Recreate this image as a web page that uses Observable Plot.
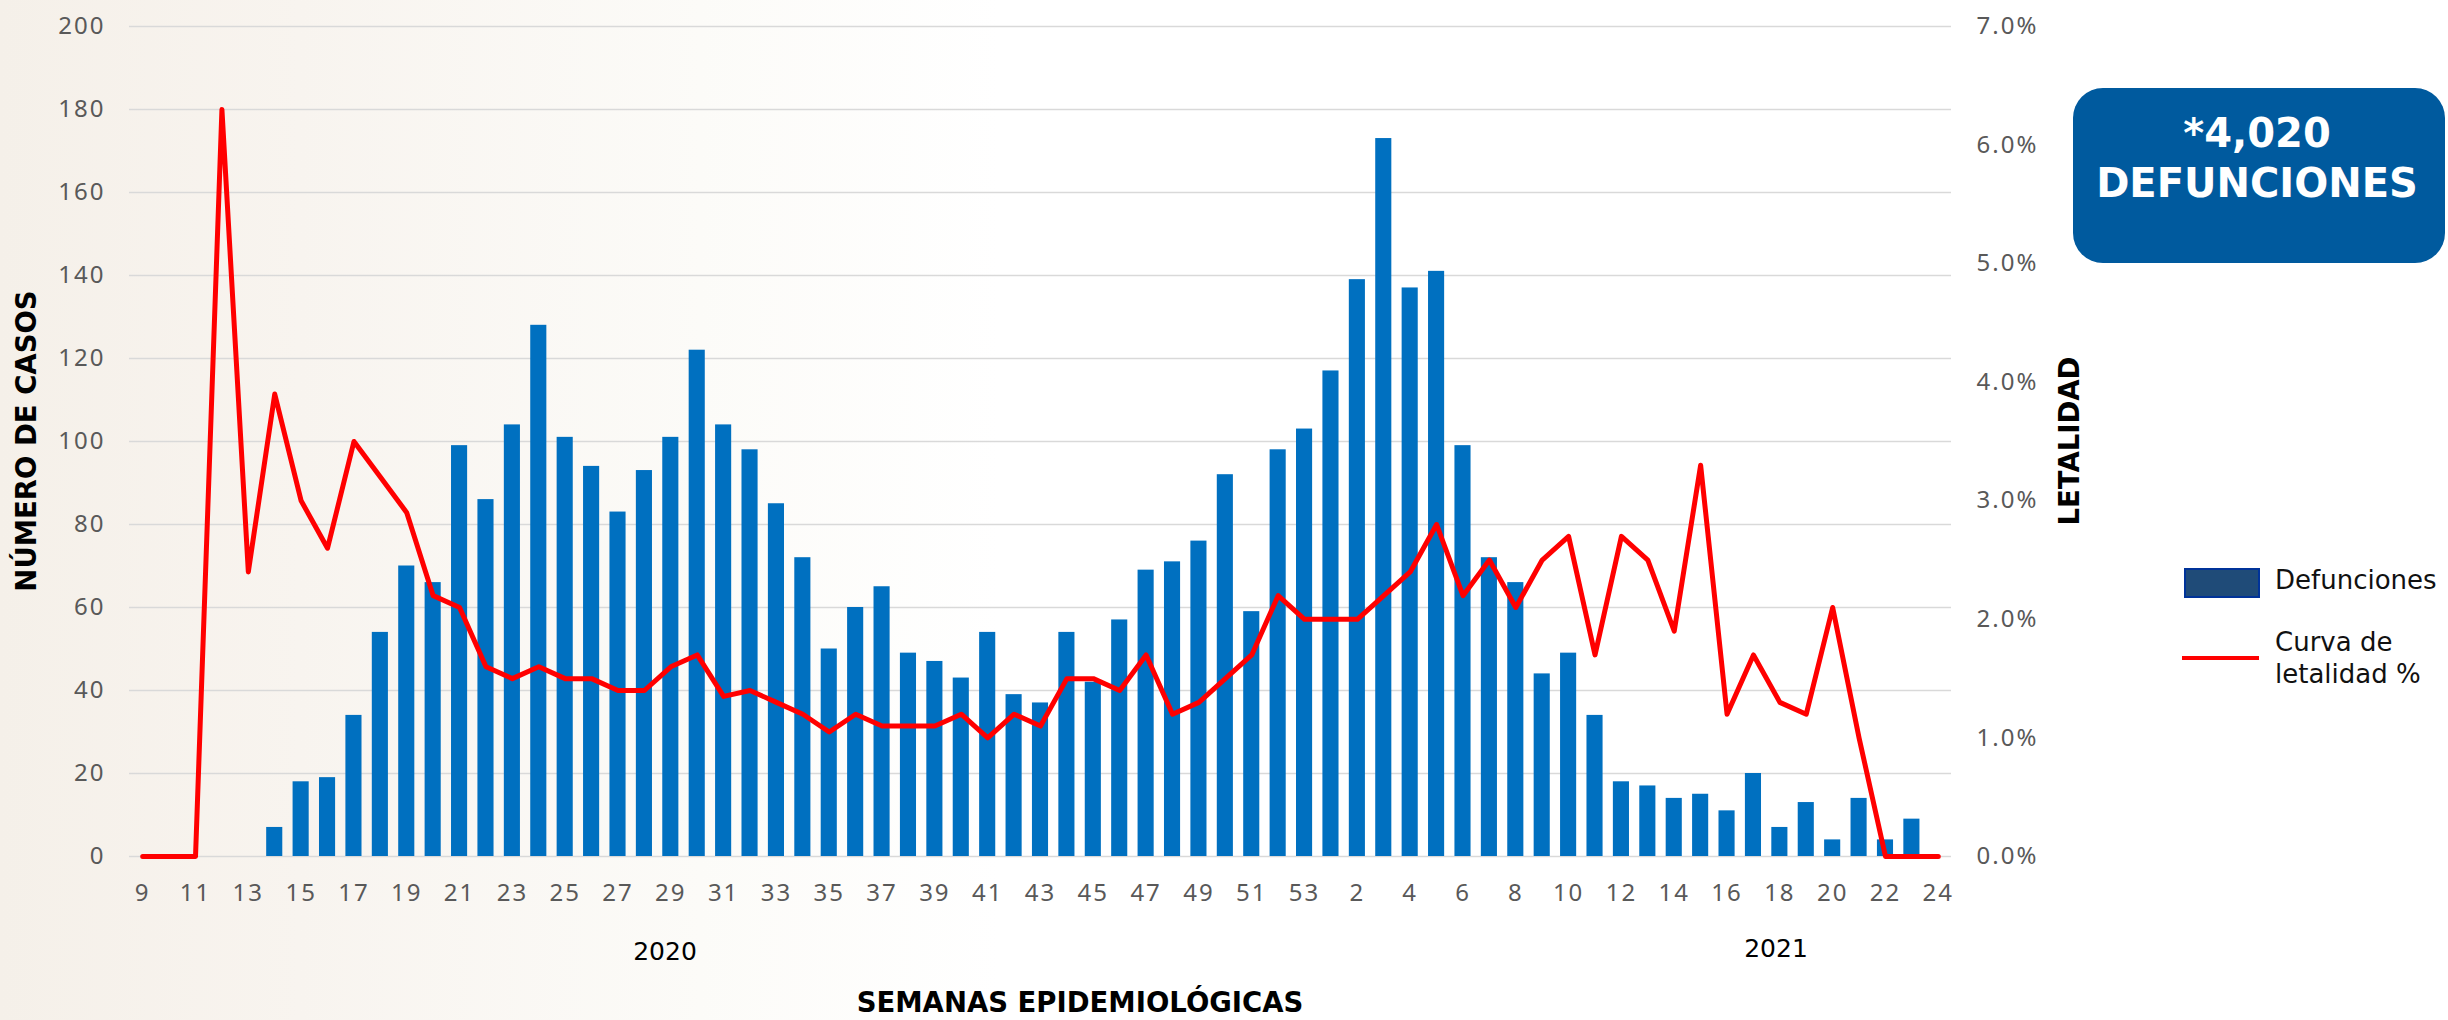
<!DOCTYPE html>
<html><head><meta charset="utf-8">
<script src="https://cdn.jsdelivr.net/npm/d3@7"></script>
<script src="https://cdn.jsdelivr.net/npm/@observablehq/plot@0.6"></script>
<style>
html,body{margin:0;padding:0;}
body{width:2448px;height:1020px;overflow:hidden;background:linear-gradient(90deg,#f5f0e9 0px,#f8f4ef 300px,#fcfbf8 700px,#ffffff 1000px);font-family:"Noto Sans",sans-serif;}
#wrap{position:relative;width:2448px;height:1020px;}
#chart{position:absolute;left:0;top:0;}
#chart svg text{letter-spacing:2px;}
.t{position:absolute;white-space:nowrap;line-height:1;transform:translate(-50%,-50%);color:#000;font-family:"DejaVu Sans",sans-serif;}
.rot{transform:translate(-50%,-50%) rotate(-90deg);}
.b{font-weight:700;}
#box{position:absolute;left:2073px;top:88px;width:372px;height:175px;border-radius:30px;background:#005a9e;}
.bt{position:absolute;left:2257px;transform:translateX(-50%);color:#fff;font-family:"DejaVu Sans",sans-serif;font-weight:700;font-size:40px;line-height:1;white-space:nowrap;}
.lg{position:absolute;font-family:"DejaVu Sans",sans-serif;font-size:26px;color:#111;line-height:32px;white-space:nowrap;}
</style></head><body>
<div id="wrap">
<div id="chart"></div>
<div class="t rot b" style="left:27px;top:441px;font-size:27.5px;">NÚMERO DE CASOS</div>
<div class="t rot b" style="left:2070px;top:441px;font-size:27.5px;">LETALIDAD</div>
<div class="t" style="left:665px;top:951px;font-size:25px;">2020</div>
<div class="t" style="left:1776px;top:948px;font-size:25px;">2021</div>
<div class="t b" style="left:1080px;top:1003px;font-size:27.5px;">SEMANAS EPIDEMIOLÓGICAS</div>
<div id="box"></div>
<div class="bt" style="top:113px;">*4,020</div>
<div class="bt" style="top:163px;">DEFUNCIONES</div>
<div style="position:absolute;left:2184px;top:568px;width:72px;height:26px;background:#1f4b78;border:2px solid #003399;"></div>
<div class="lg" style="left:2275px;top:564px;">Defunciones</div>
<div style="position:absolute;left:2182px;top:656px;width:77px;height:4px;background:#ff0000;"></div>
<div class="lg" style="left:2275px;top:626px;">Curva de<br>letalidad %</div>
</div>
<script>
const weeks2020 = [9,10,11,12,13,14,15,16,17,18,19,20,21,22,23,24,25,26,27,28,29,30,31,32,33,34,35,36,37,38,39,40,41,42,43,44,45,46,47,48,49,50,51,52,53];
const weeks2021 = [1,2,3,4,5,6,7,8,9,10,11,12,13,14,15,16,17,18,19,20,21,22,23,24];
const defunciones2020 = [0,0,0,0,0,7,18,19,34,54,70,66,99,86,104,128,101,94,83,93,101,122,104,98,85,72,50,60,65,49,47,43,54,39,37,54,42,57,69,71,76,92,59,98,103];
const defunciones2021 = [117,139,173,137,141,99,72,66,44,49,34,18,17,14,15,11,20,7,13,4,14,4,9,0];
const letalidad2020 = [0,0,0,6.3,2.4,3.9,3.0,2.6,3.5,3.2,2.9,2.2,2.1,1.6,1.5,1.6,1.5,1.5,1.4,1.4,1.6,1.7,1.35,1.4,1.3,1.2,1.05,1.2,1.1,1.1,1.1,1.2,1.0,1.2,1.1,1.5,1.5,1.4,1.7,1.2,1.3,1.5,1.7,2.2,2.0];
const letalidad2021 = [2.0,2.0,2.2,2.4,2.8,2.2,2.5,2.1,2.5,2.7,1.7,2.7,2.5,1.9,3.3,1.2,1.7,1.3,1.2,2.1,1.0,0,0,0];
const casosTicks = [0,20,40,60,80,100,120,140,160,180,200];
const letalidadTicks = [0,1,2,3,4,5,6,7];
const casosMax = 200, letalidadMax = 7;

const rows = [
  ...weeks2020.map((w,i)=>({key:"2020-"+w, week:w, def:defunciones2020[i], let:letalidad2020[i]})),
  ...weeks2021.map((w,i)=>({key:"2021-"+w, week:w, def:defunciones2021[i], let:letalidad2021[i]}))
];
const keys = rows.map(d=>d.key);
const tickKeys = keys.filter((k,i)=>i%2===0);
const labelOf = new Map(rows.map(d=>[d.key, String(d.week)]));
const toLeft = p => p*casosMax/letalidadMax;

const plot = Plot.plot({
  width:2448, height:1020,
  marginTop:26, marginBottom:164, marginLeft:129, marginRight:497,
  style:"background:transparent;font-family:'Noto Sans',sans-serif;font-size:24px;",
  x:{type:"band", domain:keys, paddingInner:0.39, paddingOuter:0.195, round:false},
  y:{domain:[0,casosMax]},
  marks:[
    Plot.gridY(casosTicks,{stroke:"#d9d9d9", strokeOpacity:1, strokeWidth:1.5}),
    Plot.barY(rows,{x:"key", y:"def", fill:"#0070c0"}),
    Plot.line(rows,{x:"key", y:d=>toLeft(d.let), stroke:"#ff0000", strokeWidth:5, strokeLinejoin:"round", strokeLinecap:"round"}),
    Plot.axisY(casosTicks,{anchor:"left", tickSize:0, tickPadding:24, label:null, color:"#595959"}),
    Plot.axisY(letalidadTicks.map(toLeft),{anchor:"right", tickSize:0, tickPadding:25, label:null, color:"#595959",
      tickFormat:d=>(d*letalidadMax/casosMax).toFixed(1)+"%"}),
    Plot.axisX(tickKeys,{anchor:"bottom", tickSize:0, tickPadding:27, label:null, color:"#595959",
      tickFormat:k=>labelOf.get(k)})
  ]
});
document.getElementById("chart").appendChild(plot);
</script>
</body></html>
